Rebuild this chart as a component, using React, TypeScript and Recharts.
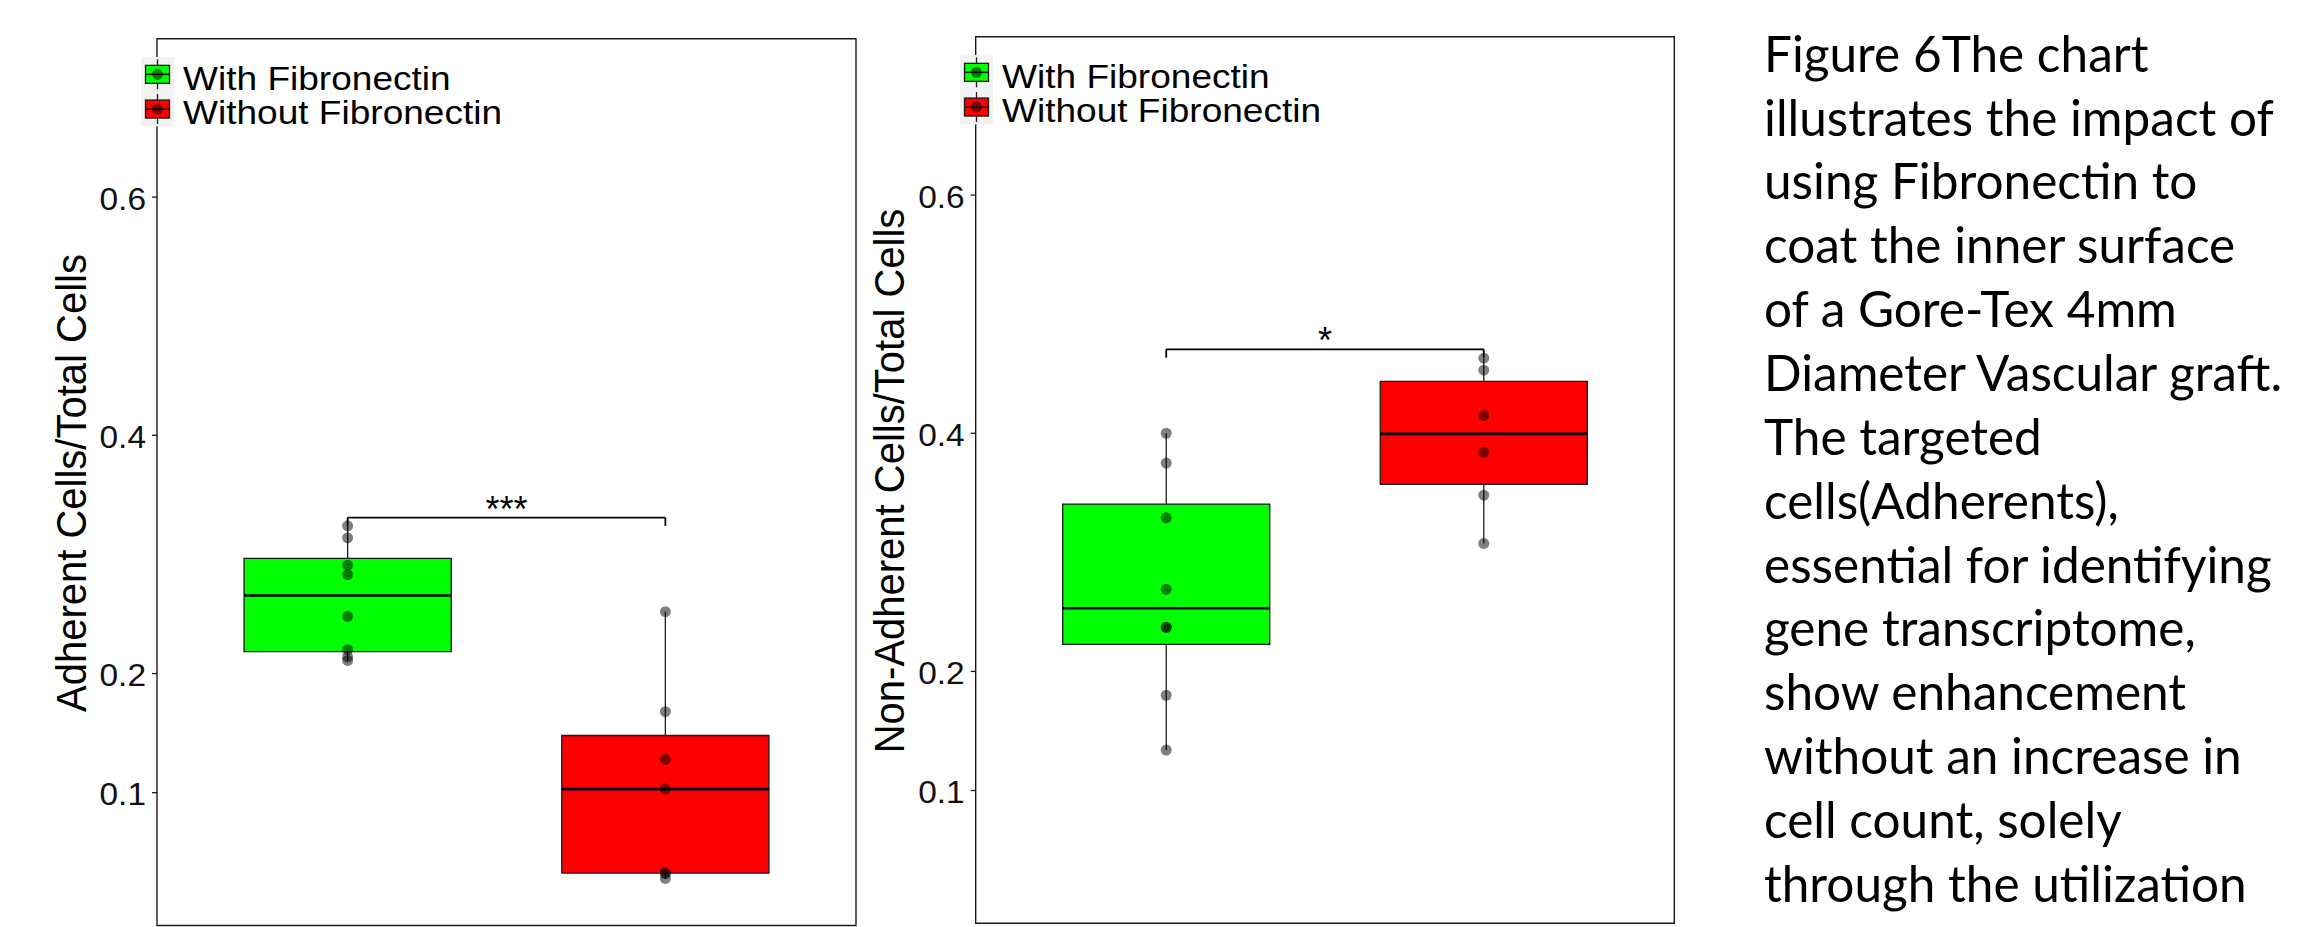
import React from 'react';
import { ComposedChart, XAxis, YAxis, Scatter, ReferenceArea, ReferenceLine, Legend } from 'recharts';

const groups = ['With Fibronectin', 'Without Fibronectin'];
const groupX = [1, 2];
const boxColors = ['#00ff00', '#ff0000'];
const yTicks = [0.1, 0.2, 0.4, 0.6];

const adherentWith = [0.324, 0.314, 0.291, 0.283, 0.248, 0.22, 0.214, 0.211];
const adherentWithout = [0.252, 0.168, 0.128, 0.103, 0.033, 0.032, 0.028];
const nonAdherentWith = [0.4, 0.375, 0.329, 0.269, 0.237, 0.237, 0.18, 0.134];
const nonAdherentWithout = [0.463, 0.453, 0.415, 0.384, 0.348, 0.3075];

const yTitles = ['Adherent Cells/Total Cells', 'Non-Adherent Cells/Total Cells'];
const bracketHeights = [0.331, 0.4705];
const bracketLabels = ['***', '*'];

const captionLines = [
  'Figure 6The chart',
  'illustrates the impact of',
  'using Fibronectin to',
  'coat the inner surface',
  'of a Gore-Tex 4mm',
  'Diameter Vascular graft.',
  'The targeted',
  'cells(Adherents),',
  'essential for identifying',
  'gene transcriptome,',
  'show enhancement',
  'without an increase in',
  'cell count, solely',
  'through the utilization',
];

const Y_DOMAIN: [number, number] = [-0.0115, 0.733];
const X_DOMAIN: [number, number] = [0.4, 2.6];
const HALF_BOX = 0.326;
const TIP = 0.007;
const INK = '#1a1a1a';
const SANS = '"Liberation Sans", Arial, sans-serif';

// type 7 quantile, same as R's default
const quantile = (vals: number[], p: number) => {
  const s = [...vals].sort((a, b) => a - b);
  const h = (s.length - 1) * p;
  const lo = Math.floor(h);
  const next = lo + 1 < s.length ? s[lo + 1] : s[lo];
  return s[lo] + (h - lo) * (next - s[lo]);
};

const TickLabel = (props: any) => {
  const { x, y, payload } = props;
  return (
    <text
      transform={`translate(${x},${y + 12.7}) scale(1.08,1)`}
      textAnchor="end"
      style={{ fontSize: '31px', fontFamily: SANS, fill: '#111' }}
    >
      {payload && payload.value}
    </text>
  );
};

const renderDot = (props: any) => (
  <circle cx={props.cx} cy={props.cy} r={5.5} fill="#000" fillOpacity={0.5} />
);

const LegendKeys = () => (
  <svg width={420} height={72} style={{ display: 'block', overflow: 'visible' }}>
    <rect x={0} y={0} width={33} height={69.4} fill="#f2f2f2" />
    {groups.map((g, i) => {
      const cy = 17.35 + i * 34.7;
      return (
        <g key={g}>
          <line x1={16.5} x2={16.5} y1={cy - 15} y2={cy + 15} stroke={INK} strokeWidth={1.3} />
          <rect x={4.5} y={cy - 9} width={24} height={18} fill={boxColors[i]} stroke={INK} strokeWidth={1.3} />
          <line x1={4.5} x2={28.5} y1={cy} y2={cy} stroke={INK} strokeWidth={1.6} />
          <circle cx={16.5} cy={cy} r={5.5} fill="#000" fillOpacity={0.5} />
          <text transform={`translate(42,${cy + 15.3}) scale(1.09,1)`} fontSize={34} fill="#000" fontFamily={SANS}>
            {g}
          </text>
        </g>
      );
    })}
  </svg>
);

type PanelProps = {
  series: number[][];
  bracketY: number;
  bracketLabel: string;
  width: number;
  height: number;
  margin: { top: number; right: number; bottom: number; left: number };
  legendPos: { left: number; top: number };
};

function BoxPanel({ series, bracketY, bracketLabel, width, height, margin, legendPos }: PanelProps) {
  const points = series.flatMap((vals, i) => vals.map((v) => ({ x: groupX[i], y: v })));
  return (
    <ComposedChart width={width} height={height} margin={margin}>
      <XAxis type="number" dataKey="x" domain={X_DOMAIN} hide allowDataOverflow />
      <YAxis
        type="number"
        dataKey="y"
        domain={Y_DOMAIN}
        ticks={yTicks}
        interval={0}
        allowDataOverflow
        width={60}
        tickSize={5}
        tickMargin={6}
        axisLine={false}
        tickLine={{ stroke: INK, strokeWidth: 1.3 }}
        tick={<TickLabel />}
      />
      <ReferenceArea
        x1={X_DOMAIN[0]}
        x2={X_DOMAIN[1]}
        y1={Y_DOMAIN[0]}
        y2={Y_DOMAIN[1]}
        fill="none"
        stroke={INK}
        strokeWidth={1.4}
        ifOverflow="visible"
      />
      {series.map((vals, i) => {
        const gx = groupX[i];
        const q1 = quantile(vals, 0.25);
        const med = quantile(vals, 0.5);
        const q3 = quantile(vals, 0.75);
        const lo = Math.min(...vals);
        const hi = Math.max(...vals);
        return (
          <React.Fragment key={groups[i]}>
            <ReferenceLine segment={[{ x: gx, y: q3 }, { x: gx, y: hi }]} stroke={INK} strokeWidth={1.3} />
            <ReferenceLine segment={[{ x: gx, y: lo }, { x: gx, y: q1 }]} stroke={INK} strokeWidth={1.3} />
            <ReferenceArea
              x1={gx - HALF_BOX}
              x2={gx + HALF_BOX}
              y1={q1}
              y2={q3}
              fill={boxColors[i]}
              fillOpacity={1}
              stroke={INK}
              strokeWidth={1.3}
            />
            <ReferenceLine
              segment={[{ x: gx - HALF_BOX, y: med }, { x: gx + HALF_BOX, y: med }]}
              stroke="#000"
              strokeWidth={2.6}
            />
          </React.Fragment>
        );
      })}
      <ReferenceLine
        segment={[{ x: groupX[0], y: bracketY }, { x: groupX[1], y: bracketY }]}
        stroke="#000"
        strokeWidth={1.8}
        label={{ value: bracketLabel, position: 'top', offset: -4, fontSize: 36, fill: '#000', fontFamily: SANS }}
      />
      <ReferenceLine segment={[{ x: groupX[0], y: bracketY }, { x: groupX[0], y: bracketY - TIP }]} stroke="#000" strokeWidth={1.8} />
      <ReferenceLine segment={[{ x: groupX[1], y: bracketY }, { x: groupX[1], y: bracketY - TIP }]} stroke="#000" strokeWidth={1.8} />
      <Scatter data={points} isAnimationActive={false} shape={renderDot} />
      <Legend
        layout="vertical"
        align="center"
        verticalAlign="middle"
        content={() => <LegendKeys />}
        wrapperStyle={{ left: legendPos.left, top: legendPos.top, width: 420, height: 72 }}
      />
    </ComposedChart>
  );
}

export default function App() {
  return (
    <div
      style={{
        position: 'absolute',
        left: 0,
        top: 0,
        width: 2314,
        height: 927,
        background: '#fff',
        overflow: 'hidden',
        fontFamily: SANS,
      }}
    >
      <div style={{ position: 'absolute', left: 0, top: 0 }}>
        <BoxPanel
          series={[adherentWith, adherentWithout]}
          bracketY={bracketHeights[0]}
          bracketLabel={bracketLabels[0]}
          width={870}
          height={927}
          margin={{ top: 38.7, right: 14, bottom: 1.5, left: 97 }}
          legendPos={{ left: 141, top: 57.3 }}
        />
      </div>
      <div style={{ position: 'absolute', left: 900, top: 0 }}>
        <BoxPanel
          series={[nonAdherentWith, nonAdherentWithout]}
          bracketY={bracketHeights[1]}
          bracketLabel={bracketLabels[1]}
          width={790}
          height={927}
          margin={{ top: 36.7, right: 15.7, bottom: 3.7, left: 15.7 }}
          legendPos={{ left: 60, top: 55 }}
        />
      </div>
      <svg
        width={2314}
        height={927}
        style={{ position: 'absolute', left: 0, top: 0, pointerEvents: 'none' }}
      >
        <text
          transform="translate(86,483) scale(1.08,1) rotate(-90)"
          textAnchor="middle"
          fontSize={40}
          fill="#000"
          fontFamily={SANS}
        >
          {yTitles[0]}
        </text>
        <text
          transform="translate(904,481) scale(1.08,1) rotate(-90)"
          textAnchor="middle"
          fontSize={40}
          fill="#000"
          fontFamily={SANS}
        >
          {yTitles[1]}
        </text>
        {captionLines.map((line, i) => (
          <text key={i} x={1764} y={71.7 + i * 63.85} fontSize={49.5} fill="#000" fontFamily="Lato, 'Open Sans', sans-serif">
            {line}
          </text>
        ))}
      </svg>
    </div>
  );
}
